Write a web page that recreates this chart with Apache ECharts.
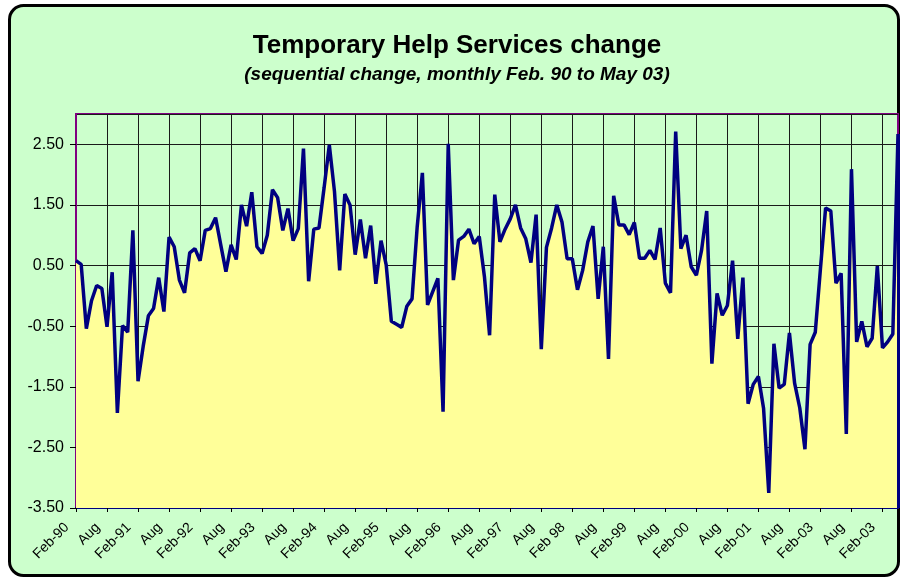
<!DOCTYPE html>
<html>
<head>
<meta charset="utf-8">
<title>Temporary Help Services change</title>
<script src="https://cdn.jsdelivr.net/npm/echarts@6/dist/echarts.min.js"></script>
<style>
  html, body { margin: 0; padding: 0; background: #fff; }
  #chart { width: 902px; height: 579px; }
</style>
</head>
<body>
<div id="chart"></div>
<script>
// monthly sequential change, Feb 1990 .. May 2003 (160 months)
var changeValues = [
  0.58, 0.52, -0.54, -0.08, 0.17, 0.12, -0.51, 0.39, -1.93, -0.49, -0.60, 1.08,
  -1.41, -0.83, -0.33, -0.21, 0.30, -0.26, 0.97, 0.81, 0.26, 0.05, 0.71, 0.78,
  0.58, 1.08, 1.11, 1.29, 0.84, 0.40, 0.84, 0.60, 1.50, 1.15, 1.71, 0.81,
  0.70, 1.00, 1.75, 1.62, 1.08, 1.44, 0.91, 1.11, 2.43, 0.24, 1.10, 1.12,
  1.79, 2.49, 1.72, 0.42, 1.68, 1.50, 0.68, 1.26, 0.62, 1.16, 0.20, 0.91,
  0.51, -0.42, -0.47, -0.52, -0.17, -0.05, 1.14, 2.03, -0.15, 0.07, 0.29, -1.91,
  2.51, 0.26, 0.92, 0.98, 1.10, 0.86, 0.98, 0.32, -0.65, 1.67, 0.89, 1.10,
  1.27, 1.50, 1.12, 0.94, 0.55, 1.34, -0.88, 0.80, 1.12, 1.50, 1.22, 0.61,
  0.61, 0.10, 0.42, 0.89, 1.15, -0.05, 0.81, -1.04, 1.65, 1.17, 1.17, 1.01,
  1.21, 0.62, 0.62, 0.75, 0.60, 1.12, 0.21, 0.05, 2.71, 0.78, 1.00, 0.48,
  0.34, 0.75, 1.40, -1.12, 0.04, -0.32, -0.16, 0.58, -0.71, 0.30, -1.78, -1.46,
  -1.33, -1.86, -3.25, -0.79, -1.52, -1.46, -0.61, -1.44, -1.85, -2.53, -0.80, -0.60,
  0.45, 1.45, 1.40, 0.21, 0.37, -2.28, 2.09, -0.76, -0.42, -0.84, -0.70, 0.49,
  -0.86, -0.76, -0.63, 2.67
]

// labels as printed on the original, one every 6 months
var tickLabels = [
  'Feb-90', 'Aug', 'Feb-91', 'Aug', 'Feb-92', 'Aug', 'Feb-93', 'Aug', 'Feb-94',
  'Aug', 'Feb-95', 'Aug', 'Feb-96', 'Aug', 'Feb-97', 'Aug', 'Feb 98', 'Aug',
  'Feb-99', 'Aug', 'Feb-00', 'Aug', 'Feb-01', 'Aug', 'Feb-03', 'Aug', 'Feb-03'
]

var monthNames = ['Jan', 'Feb', 'Mar', 'Apr', 'May', 'Jun', 'Jul', 'Aug', 'Sep', 'Oct', 'Nov', 'Dec']
var months = []
for (var i = 0; i < changeValues.length; i++) {
  var m = (1 + i) % 12
  var y = 1990 + Math.floor((1 + i) / 12)
  months.push(monthNames[m] + '-' + String(y).slice(2))
}

var yMin = -3.5
var yMax = 3.0
var lastIdx = changeValues.length - 1

var chart = echarts.init(document.getElementById('chart'))
chart.setOption({
  backgroundColor: '#ffffff',
  animation: false,
  graphic: [{
    type: 'rect',
    z: -10,
    shape: { x: 9.5, y: 5.5, width: 889, height: 570, r: 14 },
    style: { fill: '#CCFFCC', stroke: '#000000', lineWidth: 3 }
  }],
  title: [{
    text: 'Temporary Help Services change',
    left: 452,
    top: 28,
    textAlign: 'center',
    textStyle: { fontFamily: 'Arial, Liberation Sans', fontSize: 26, fontWeight: 'bold', color: '#000' }
  }, {
    text: '(sequential change, monthly Feb. 90 to May 03)',
    left: 452,
    top: 60,
    textAlign: 'center',
    textStyle: { fontFamily: 'Arial, Liberation Sans', fontSize: 19, fontWeight: 'bold', fontStyle: 'italic', color: '#000' }
  }],
  grid: {
    left: 76,
    right: 4,
    top: 114,
    bottom: 71,
    show: true,
    backgroundColor: '#CCFFCC',
    borderColor: '#800080',
    borderWidth: 2
  },
  xAxis: {
    type: 'category',
    data: months,
    boundaryGap: false,
    axisLine: { show: true, onZero: false, lineStyle: { color: '#000080', width: 2 } },
    axisTick: { show: true, interval: 5, length: 4, lineStyle: { color: '#000' } },
    splitLine: { show: true, interval: 5, lineStyle: { color: '#1a1a1a', width: 1 } },
    axisLabel: {
      interval: 5,
      rotate: 45,
      margin: 8,
      padding: [0, 13, 0, 0],
      fontFamily: 'Arial, Liberation Sans',
      fontSize: 14,
      color: '#000',
      formatter: function(v, idx) {
        return tickLabels[Math.round(idx / 6)] || ''
      }
    }
  },
  yAxis: {
    type: 'value',
    min: yMin,
    max: yMax,
    interval: 1,
    axisLine: { show: true, lineStyle: { color: '#800080', width: 2 } },
    axisTick: { show: true, length: 6, lineStyle: { color: '#000' } },
    splitLine: { show: true, lineStyle: { color: '#1a1a1a', width: 1 } },
    axisLabel: {
      margin: 12,
      fontFamily: 'Arial, Liberation Sans',
      fontSize: 16,
      color: '#000',
      showMaxLabel: false,
      formatter: function(v) {
        return v > 2.9 ? '' : v.toFixed(2)
      }
    }
  },
  series: [{
    name: 'change',
    type: 'line',
    data: changeValues,
    symbol: 'none',
    smooth: false,
    lineStyle: { color: '#000080', width: 3.5 },
    areaStyle: { color: '#FFFF99', opacity: 1, origin: 'start' },
    markLine: {
      silent: true,
      symbol: 'none',
      label: { show: false },
      lineStyle: { color: '#000080', width: 3, type: 'solid' },
      data: [
        [{ coord: [lastIdx, changeValues[lastIdx]] }, { coord: [lastIdx, yMin] }]
      ]
    }
  }]
})
</script>
</body>
</html>
